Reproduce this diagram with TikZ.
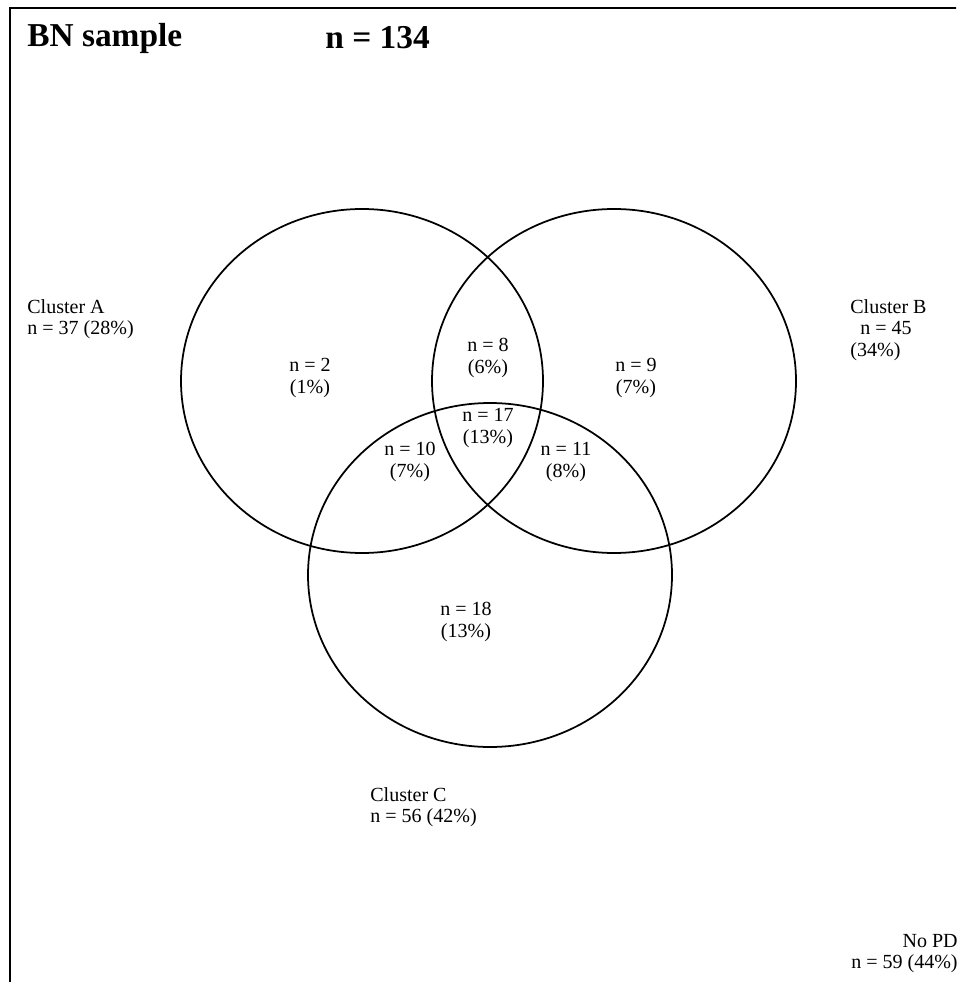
\documentclass[tikz,border=0pt]{standalone}
\usepackage{fontspec}
\setmainfont{Liberation Serif}
\usetikzlibrary{positioning}
\tikzset{
        set/.style={line width=1pt},
        lab/.style={inner sep=0pt,align=center,font=\fontsize{11.4}{12.2}\selectfont},
        labl/.style={lab,align=left,anchor=north west},
        big/.style={inner sep=0pt,anchor=west,font=\fontsize{19}{22}\selectfont\bfseries}
        }

\begin{document}
\begin{tikzpicture}[x=0.02cm,y=-0.02cm]
    % 画布大小与外框 (右边和下边在图外)
    \useasboundingbox (0,0) rectangle (956,982);
    \clip (0,0) rectangle (956,982);
    \draw[line width=1.2pt] (10,1000) -- (10,8) -- (970,8);
    % 标题
    \node[big] (title) at (27,38) {BN sample};
    \node[big] (total) at (325,38) {n = 134};

    % 三个集合的中心
    \coordinate (cA) at (362,381);
    \coordinate (cB) at (614,381);
    \coordinate (cC) at (490,575);
    \draw[set] (cA) ellipse [x radius=181,y radius=172];
    \draw[set] (cB) ellipse [x radius=182,y radius=172];
    \draw[set] (cC) ellipse [x radius=182,y radius=172];

    % 各区域的人数
    \node[lab] (onlyA) at (310,378) {n = 2\\(1\%)};
    \node[lab] (AB) at (488,358) {n = 8\\(6\%)};
    \node[lab] (onlyB) at (636,378) {n = 9\\(7\%)};
    \node[lab] (ABC) at (488,428) {n = 17\\(13\%)};
    \node[lab] (AC) at (410,462) {n = 10\\(7\%)};
    \node[lab] (BC) at (566,462) {n = 11\\(8\%)};
    \node[lab] (onlyC) at (466,622) {n = 18\\(13\%)};

    % 集合名称
    \node[labl] (nameA) at (27,299) {Cluster A\\n = 37 (28\%)};
    \node[labl] (nameB) at (850,299) {Cluster B\\\ \ n = 45\\(34\%)};
    \node[labl] (nameC) at (370,787) {Cluster C\\n = 56 (42\%)};
    \node[lab,align=right,anchor=north east] (nopd) at (958,934) {No PD\\n = 59 (44\%)};
\end{tikzpicture}
\end{document}
